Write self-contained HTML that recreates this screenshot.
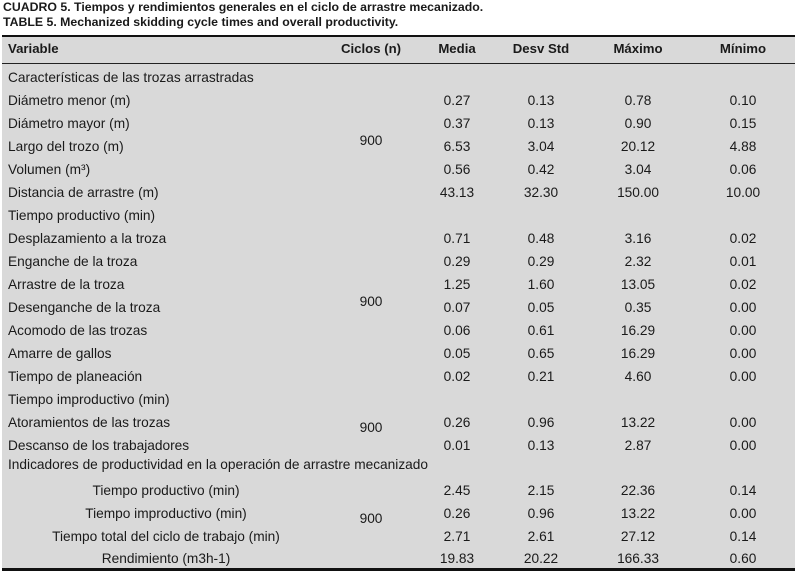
<!DOCTYPE html>
<html><head><meta charset="utf-8"><style>
body{margin:0;width:796px;height:569px;background:#fff;position:relative;overflow:hidden;font-family:"Liberation Sans",Arial,sans-serif;color:#1a1a1a}
.t{position:absolute;left:3px;font-size:12.3px;font-weight:bold;white-space:nowrap}
#tbl{position:absolute;left:2px;top:35px;width:793px;height:534px;background:#d9d9d9;border-top:2px solid #111}
#hl{position:absolute;left:0;top:26px;width:793px;height:1px;background:#222}
#bl{position:absolute;left:0;bottom:0;width:793px;height:3px;background:#111}
.c{position:absolute;font-size:13.7px;line-height:16px;white-space:nowrap;transform:translate(-50%,-50%)}
.l{position:absolute;font-size:13.7px;line-height:16px;white-space:nowrap;transform:translateY(-50%);left:6px}
.h{font-weight:bold;font-size:13.2px}
</style></head><body>
<div class="t" style="top:0px">CUADRO 5. Tiempos y rendimientos generales en el ciclo de arrastre mecanizado.</div>
<div class="t" style="top:15px">TABLE 5. Mechanized skidding cycle times and overall productivity.</div>
<div id="tbl">
<div id="hl"></div>
<div id="bl"></div>
</div>
<script>
const tbl=document.getElementById('tbl');
const top0=37;
const cols=[371,457,541,638,743];
const headers=['Ciclos (n)','Media','Desv Std','Máximo','Mínimo'];
function add(cls,x,y,txt,name){const d=document.createElement('div');d.className=cls;d.style.top=(y-top0)+'px';if(x!==null)d.style.left=(x-2)+'px';d.textContent=txt;


tbl.appendChild(d);return d;}
add('l h',null,49,'Variable','header-variable');
headers.forEach((h,i)=>add('c h',cols[i],49,h,'header-col'));
const rows=[
[78,'Características de las trozas arrastradas',null,0],
[101,'Diámetro menor (m)',['0.27','0.13','0.78','0.10'],0],
[124,'Diámetro mayor (m)',['0.37','0.13','0.90','0.15'],0],
[147,'Largo del trozo (m)',['6.53','3.04','20.12','4.88'],0],
[170,'Volumen (m³)',['0.56','0.42','3.04','0.06'],0],
[193,'Distancia de arrastre (m)',['43.13','32.30','150.00','10.00'],0],
[216,'Tiempo productivo (min)',null,0],
[239,'Desplazamiento a la troza',['0.71','0.48','3.16','0.02'],0],
[262,'Enganche de la troza',['0.29','0.29','2.32','0.01'],0],
[285,'Arrastre de la troza',['1.25','1.60','13.05','0.02'],0],
[308,'Desenganche de la troza',['0.07','0.05','0.35','0.00'],0],
[331,'Acomodo de las trozas',['0.06','0.61','16.29','0.00'],0],
[354,'Amarre de gallos',['0.05','0.65','16.29','0.00'],0],
[377,'Tiempo de planeación',['0.02','0.21','4.60','0.00'],0],
[400,'Tiempo improductivo (min)',null,0],
[423,'Atoramientos de las trozas',['0.26','0.96','13.22','0.00'],0],
[446,'Descanso de los trabajadores',['0.01','0.13','2.87','0.00'],0],
[465,'Indicadores de productividad en la operación de arrastre mecanizado',null,0],
[491,'Tiempo productivo (min)',['2.45','2.15','22.36','0.14'],1],
[514,'Tiempo improductivo (min)',['0.26','0.96','13.22','0.00'],1],
[537,'Tiempo total del ciclo de trabajo (min)',['2.71','2.61','27.12','0.14'],1],
[559,'Rendimiento (m3h-1)',['19.83','20.22','166.33','0.60'],1]];
rows.forEach(r=>{
 if(r[3]) add('c',166,r[0],r[1],'row-label'); else add('l',null,r[0],r[1],'row-label');
 if(r[2]) r[2].forEach((v,i)=>add('c',cols[i+1],r[0],v,'cell-value'));
});
[141,302,428,519].forEach(y=>add('c',cols[0],y,'900','cycles-count'));
</script>
</body></html>
